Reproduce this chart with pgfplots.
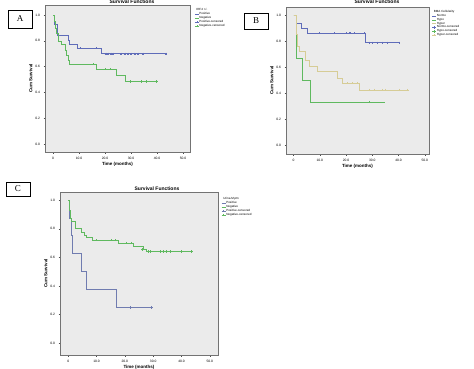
\documentclass[border=0pt]{standalone}
\usepackage{fontspec}
\setmainfont{Liberation Sans}
\newfontfamily\seriffont{Liberation Serif}
\usepackage{pgfplots}
\pgfplotsset{compat=1.18}
\definecolor{kmblue}{RGB}{95,108,185}
\definecolor{kmgreen}{RGB}{95,185,95}
\definecolor{kmpale}{RGB}{214,204,150}
\definecolor{kmslate}{RGB}{112,124,176}
\pgfplotsset{
  km/.style={scale only axis,
    axis background/.style={fill=black!8},
    axis line style={black!55, line width=0.4pt},
    tick align=outside, xtick pos=bottom, ytick pos=left,
    major tick length=1.5pt, tick style={black!70, line width=0.3pt},
    ticklabel style={font=\fontsize{3.3}{4}\selectfont},
    /pgf/number format/assume math mode=true,
    ytick={0,0.2,0.4,0.6,0.8,1.0}, yticklabels={0.0,0.2,0.4,0.6,0.8,1.0},
    xtick={0,10,20,30,40,50}, xticklabels={0,10.0,20.0,30.0,40.0,50.0},
    label style={font=\bfseries\fontsize{4.5}{5}\selectfont},
    ylabel={Cum Survival}, xlabel={Time (months)},
    ylabel shift=-4pt, xlabel shift=-4pt,
    legend style={draw=none, fill=none, font=\fontsize{3}{3.4}\selectfont,
      anchor=north west, row sep=-0.6pt, inner sep=0pt,
      nodes={inner sep=0.4pt}},
    legend cell align=left,
    legend image code/.code={\draw[##1] (0pt,0pt) -- (4pt,0pt);},
  },
  step/.style={const plot, line width=0.5pt, #1},
  cens/.style={only marks, mark=+, mark size=1.1pt, #1, mark options={line width=0.35pt},
    legend image code/.code={\draw[##1] (0pt,0pt) -- (4pt,0pt); \draw[##1] plot coordinates {(2pt,0pt)};}},
}
\begin{document}
\begin{tikzpicture}
\path[use as bounding box] (0pt,0pt) rectangle (474pt,-369pt);
% ---------- A ----------
\node[draw, line width=0.4pt, minimum width=24pt, minimum height=18pt, inner sep=0pt, font=\seriffont\fontsize{9}{10}\selectfont] at (20pt,-19pt) {A};
\node[font=\bfseries\fontsize{5}{6}\selectfont, anchor=base] at (132pt,-4pt) {Survival Functions};
\begin{axis}[km, at={(45pt,-152pt)}, anchor=south west, width=145pt, height=147pt,
  xmin=-3.1, xmax=52.7, ymin=-0.062, ymax=1.078,
  legend style={at={(1.03,0.98)}}]
\addlegendimage{empty legend}\addlegendentry{\hspace{-3pt}IRF4 +/-}
\addplot[step=kmblue] coordinates {(0,1.0)(0.5,0.93)(1.5,0.845)(5.8,0.807)(6.4,0.776)(9.2,0.742)(18.6,0.70)(43.6,0.70)};
\addlegendentry{Positive}
\addplot[step=kmgreen] coordinates {(0,1.0)(0.4,0.95)(0.8,0.90)(1.3,0.86)(2,0.80)(3,0.77)(4.5,0.73)(5,0.69)(5.8,0.65)(6.3,0.62)(16.7,0.58)(24.4,0.536)(27.6,0.485)(40.4,0.485)};
\addlegendentry{Negative}
\addplot[cens=kmblue] coordinates {(10.3,0.742)(16.7,0.742)(20.3,0.70)(21.2,0.70)(22.2,0.70)(23.1,0.70)(26.3,0.70)(27.6,0.70)(28.8,0.70)(30.1,0.70)(31.4,0.70)(32.7,0.70)(34.6,0.70)(43.6,0.70)};
\addlegendentry{Positive-censored}
\addplot[cens=kmgreen] coordinates {(15.4,0.618)(19.9,0.58)(21.8,0.58)(29.5,0.485)(34,0.485)(35.9,0.485)(39.7,0.485)};
\addlegendentry{Negative-censored}
\end{axis}
% ---------- B ----------
\node[draw, line width=0.4pt, minimum width=24pt, minimum height=16pt, inner sep=0pt, font=\seriffont\fontsize{9}{10}\selectfont] at (256pt,-21pt) {B};
\node[font=\bfseries\fontsize{5}{6}\selectfont, anchor=base] at (377pt,-4pt) {Survival Functions};
\begin{axis}[km, at={(286pt,-154pt)}, anchor=south west, width=143pt, height=147pt,
  xmin=-2.9, xmax=51.6, ymin=-0.064, ymax=1.061,
  legend style={at={(1.02,0.98)}}]
\addlegendimage{empty legend}\addlegendentry{\hspace{-3pt}BMA Cellularity}
\addplot[step=kmblue] coordinates {(0,1.0)(0.9,0.936)(2.9,0.898)(5.1,0.86)(27.4,0.788)(40.5,0.788)};
\addlegendentry{Normo}
\addplot[step=kmgreen] coordinates {(0,1.0)(0.9,0.668)(3.2,0.50)(6.4,0.334)(34.8,0.334)};
\addlegendentry{Hypo}
\addplot[step=kmpale] coordinates {(0,1.0)(0.9,0.85)(1.3,0.76)(2,0.72)(4.5,0.655)(5.8,0.605)(9,0.566)(16.6,0.515)(18.5,0.477)(25,0.426)(43.8,0.426)};
\addlegendentry{Hyper}
\addplot[cens=kmblue] coordinates {(9.9,0.86)(15.3,0.86)(20.1,0.86)(21.0,0.86)(21.7,0.86)(22.9,0.86)(26.8,0.86)(28.7,0.788)(29.9,0.788)(31.8,0.788)(33.8,0.788)(35.7,0.788)(40.1,0.788)};
\addlegendentry{Normo-censored}
\addplot[cens=kmgreen] coordinates {(28.7,0.334)};
\addlegendentry{Hypo-censored}
\addplot[cens=kmpale] coordinates {(20.4,0.477)(22.3,0.477)(24.2,0.477)(28.7,0.426)(30.6,0.426)(33.8,0.426)(35.0,0.426)(40.1,0.426)(43.3,0.426)};
\addlegendentry{Hyper-censored}
\end{axis}
% ---------- C ----------
\node[draw, line width=0.4pt, minimum width=24pt, minimum height=14pt, inner sep=0pt, font=\seriffont\fontsize{9}{10}\selectfont] at (18pt,-189pt) {C};
\node[font=\bfseries\fontsize{5}{6}\selectfont, anchor=base] at (157pt,-190pt) {Survival Functions};
\begin{axis}[km, at={(60pt,-355pt)}, anchor=south west, width=158pt, height=163pt,
  xmin=-2.9, xmax=52.9, ymin=-0.082, ymax=1.056,
  legend style={at={(1.02,0.97)}}]
\addlegendimage{empty legend}\addlegendentry{\hspace{-3pt}Urina.M.ptn}
\addplot[step=kmslate] coordinates {(0,1.0)(0.2,0.872)(0.9,0.756)(1.5,0.628)(4.5,0.5)(6.2,0.377)(16.8,0.249)(29.4,0.249)};
\addlegendentry{Positive}
\addplot[step=kmgreen] coordinates {(0,1.0)(0.3,0.93)(0.7,0.87)(1.2,0.85)(2.5,0.80)(4.5,0.775)(5.5,0.755)(6.5,0.74)(8.5,0.72)(17.5,0.70)(23,0.675)(26.5,0.655)(27.5,0.64)(44,0.64)};
\addlegendentry{Negative}
\addplot[cens=kmslate] coordinates {(21.8,0.249)(29.4,0.249)};
\addlegendentry{Positive-censored}
\addplot[cens=kmgreen] coordinates {(10,0.72)(15.3,0.72)(16.5,0.72)(20.6,0.70)(22.1,0.70)(26.2,0.655)(28.2,0.64)(29,0.64)(32.4,0.64)(33.5,0.64)(34.7,0.64)(35.9,0.64)(40,0.64)(43.5,0.64)};
\addlegendentry{Negative-censored}
\end{axis}
\end{tikzpicture}
\end{document}
